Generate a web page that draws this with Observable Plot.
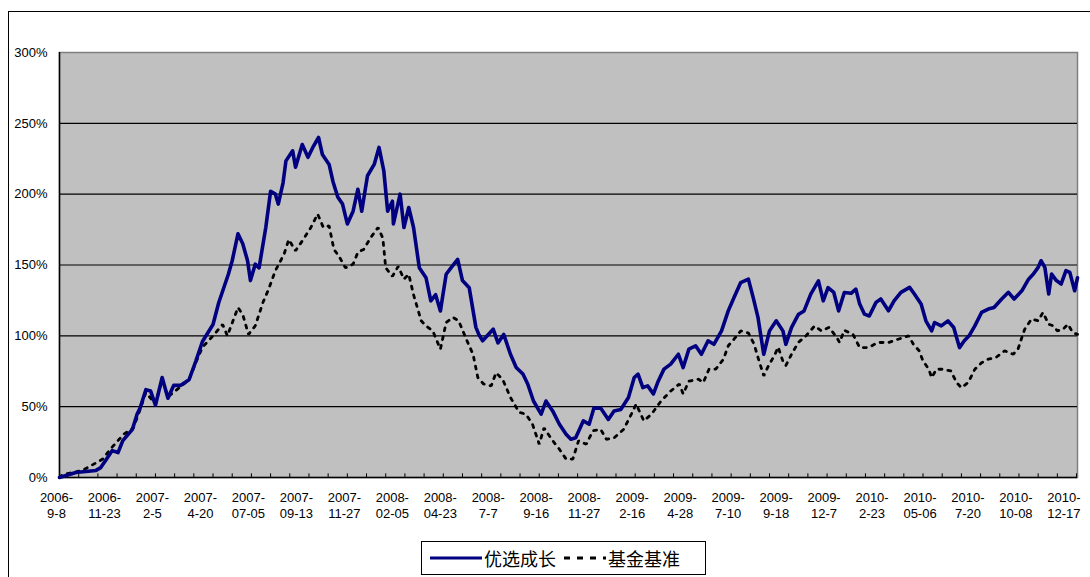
<!DOCTYPE html>
<html><head><meta charset="utf-8">
<script src="https://cdn.jsdelivr.net/npm/d3@7"></script>
<script src="https://cdn.jsdelivr.net/npm/@observablehq/plot@0.6"></script>
<style>
html,body{margin:0;padding:0;background:#fff;width:1090px;height:577px;overflow:hidden;position:relative;}
#frame{position:absolute;left:8px;top:11px;width:2000px;height:2000px;border:1px solid #000;box-sizing:border-box;}
#chart{position:absolute;left:0;top:0;}
#legend{position:absolute;left:421px;top:541px;width:285px;height:34px;border:1px solid #000;background:#fff;box-sizing:border-box;display:flex;align-items:center;font-family:"Noto Sans CJK SC",sans-serif;font-size:18px;color:#000;white-space:nowrap;}
#legend svg{display:block;}
</style></head><body>
<div id="frame"></div>
<div id="chart"></div>
<div id="legend">
  <svg width="56" height="20" style="margin-left:6px"><line x1="2" x2="54" y1="10" y2="10" stroke="#000080" stroke-width="3"/></svg>
  <span>优选成长</span>
  <svg width="48" height="20" style="margin-left:4px"><line x1="4" x2="46" y1="10" y2="10" stroke="#000" stroke-width="3" stroke-dasharray="6 7"/></svg>
  <span>基金基准</span>
</div>
<script>
// trading-day index on the category axis
const categoryCount = 1062;
const labelStep = 50;
const tickStep = 20;
const dateLabels = ["2006-9-8","2006-11-23","2007-2-5","2007-4-20","2007-07-05","2007-09-13","2007-11-27","2008-02-05","2008-04-23","2008-7-7","2008-9-16","2008-11-27","2009-2-16","2009-4-28","2009-7-10","2009-9-18","2009-12-7","2010-2-23","2010-05-06","2010-7-20","2010-10-08","2010-12-17"];
const yTicks = [0,50,100,150,200,250,300];

// 优选成长 (fund)
const fundDay = [0,17,38,43,48,55,61,66,76,81,84,90,95,100,107,113,119,126,135,142,149,160,166,176,180,186,191,196,199,204,208,215,220,225,228,233,236,243,246,253,259,264,270,274,281,285,290,295,300,306,311,315,321,328,333,338,342,347,348,355,359,364,369,375,382,387,392,397,403,408,415,420,427,434,437,441,452,457,463,470,476,483,488,494,502,507,514,521,528,533,538,546,552,557,564,572,578,585,593,599,603,608,613,619,624,630,637,645,650,656,663,669,676,682,690,697,703,710,718,723,728,734,740,747,754,757,763,770,776,783,791,796,801,807,812,818,825,830,834,839,844,851,856,864,870,877,886,891,898,903,909,912,919,926,932,935,938,943,948,954,961,968,974,982,989,995,1003,1010,1015,1020,1023,1027,1031,1034,1039,1044,1049,1053,1058,1061];
const fundPct = [0,3.5,5,7,12,19,17.6,26,34,45,49,62,61,51,70.6,56,65,65,69,82,96,108,123.5,143.5,153,172,165,153,139,150.6,148,176.5,202,200,193,208,223.5,230.6,219,235,226,233,240,228,221,209,198,193,179,188,203.5,188,213,221,233,216.5,188,195,179,200,176.5,190.6,176.5,148,141,124.7,129,117.6,143.5,148,154,139,134,106,101,96.5,104.7,95,101,87,77.6,73,66,54,44.7,54,47,37.6,30.6,27,28,40,37.6,49,49,41,47,48,56.5,70.6,73,63.5,64.7,59,68,76.5,80,87,77.6,90.6,93,87,96.5,94,103.5,117.6,127,137.6,140,127,113,87,103.5,110.6,103.5,94,106,115,117.6,129.4,138.8,124.7,134,130.6,117.6,130.6,130,133,122.4,115.3,114,123.6,126,117.7,124.8,130.7,134.2,129.5,122.4,110.6,103.5,109.4,107,110.6,105.9,98.8,91.7,96.5,100,107,116.5,118.9,120,126,130.7,126,131.8,140,143.6,148.3,153,148.3,129.5,143.6,139,136.6,146,144.8,131.8,141];

// 基金基准 (benchmark)
const benchDay = [0,3,24,32,45,53,67,77,84,90,100,107,113,126,135,142,149,160,170,175,186,191,197,204,212,218,225,234,239,246,255,262,269,275,281,286,291,298,306,311,317,324,332,337,340,347,353,359,364,369,377,382,389,397,403,410,416,424,431,436,442,450,455,462,470,479,486,493,500,505,514,521,528,535,541,549,556,564,570,578,588,596,601,609,617,627,637,646,650,656,666,671,677,684,692,697,703,710,718,724,728,734,739,745,749,754,757,763,770,778,787,794,802,810,813,818,827,834,843,853,864,874,885,890,896,900,906,909,914,921,929,935,940,947,954,961,968,976,985,994,999,1003,1006,1013,1020,1025,1031,1036,1040,1046,1051,1056,1061];
const benchPct = [0,2,5,8,13,20,30.6,35,48,60,52,69,57,64,69,81,92,100,108,100,120,115,101,107,123.5,133,146,157.6,168,160,169,176.5,186,176.5,177.6,161,156.5,148,150.6,159,161,169,176.5,169,148,142,149,140,143.5,129,110.6,107,103.5,90.6,109.4,113,110.6,97.6,87,70.6,66,64.7,74,69,56.5,46,44.7,37.6,23.5,35,26,20,13,13,26,23.5,33,34,27,28,34,44.7,51.8,40,44.7,54,61,66,59,68,69.4,67,76.5,76.5,83.5,93,97.6,103.5,102,94,84.7,71.8,79,86,92,82,79,87,95.3,100,107,103.5,106,99,95.3,104,101,91.7,91.7,95.3,95.3,97.6,100,94,89.4,82.3,76.4,70.5,76.4,76.4,75.2,67,63.4,67,76.4,81,83.5,84.7,89.4,87,90.6,98.8,104.7,111.8,110.6,116.5,108.2,107,103.5,104.7,108.2,102.4,101];

const fund = fundDay.map((d,i)=>({day:d, pct:fundPct[i]}));
const bench = benchDay.map((d,i)=>({day:d, pct:benchPct[i]}));
const labelDays = dateLabels.map((_,i)=>i*labelStep);
const tickDays = d3.range(0, categoryCount, tickStep);
const gridLines = yTicks.filter(v=>v>0 && v<300);

const chart = Plot.plot({
  width: 1090,
  height: 530,
  marginLeft: 59,
  marginRight: 13,
  marginTop: 52,
  marginBottom: 53,
  style: {fontFamily: "'Liberation Sans', 'DejaVu Sans', sans-serif", fontSize: "13px", color: "#000", background: "transparent"},
  x: {domain: [0, categoryCount-1], axis: null},
  y: {domain: [0, 300], axis: null},
  marks: [
    Plot.frame({fill: "#c0c0c0", stroke: "#808080", strokeWidth: 1.5}),
    Plot.ruleY(gridLines, {stroke: "#000", strokeWidth: 1.2}),
    Plot.ruleX(tickDays, {y1: 0, y2: 2.6, stroke: "#000", strokeWidth: 1}),
    Plot.ruleY([0], {stroke: "#000", strokeWidth: 1.5}),
    Plot.ruleX([0], {stroke: "#000", strokeWidth: 1.5}),
    Plot.line(bench, {x: "day", y: "pct", stroke: "#000", strokeWidth: 2.8, strokeDasharray: "3 6", strokeLinejoin: "miter"}),
    Plot.line(fund, {x: "day", y: "pct", stroke: "#000080", strokeWidth: 3.6, strokeLinejoin: "round"}),
    Plot.axisY({ticks: yTicks, tickFormat: d => d + "%", tickSize: 0, tickPadding: 12, fontSize: 13, label: null}),
    Plot.axisX({ticks: labelDays, tickFormat: (d,i) => dateLabels[i].replace(/^(\d{4}-)/, "$1\n"), tickSize: 0, tickPadding: 13, fontSize: 13, lineHeight: 1.25, dx: -3, label: null})
  ]
});
document.getElementById("chart").appendChild(chart);
</script>
</body></html>
